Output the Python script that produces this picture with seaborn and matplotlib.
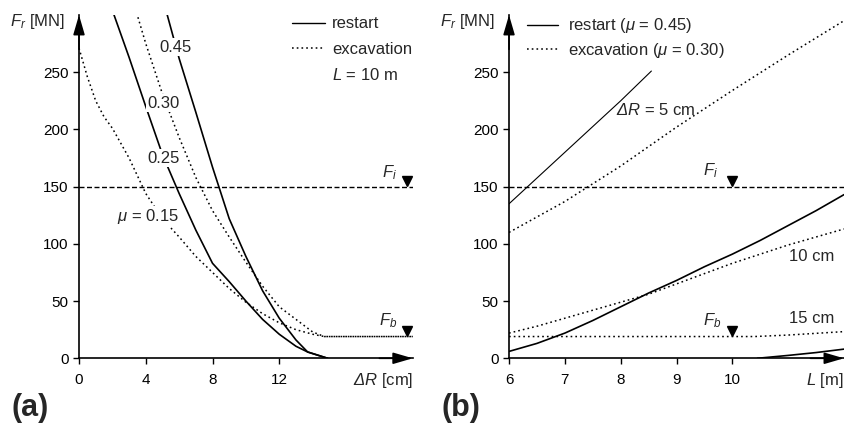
import matplotlib
matplotlib.use('Agg')
import matplotlib.pyplot as plt
import seaborn as sns
from matplotlib.lines import Line2D
from matplotlib.transforms import offset_copy

# Panel (a): thrust force F_r [MN] against overcut dR [cm], L = 10 m
dr_exc_015 = [0, 0.5, 1, 1.5, 2, 3, 4, 5, 6, 7, 8, 9, 10, 11, 12, 13, 14, 14.7, 20]
fr_exc_015 = [271, 246, 225, 211, 201, 175, 144, 122, 106, 89, 75, 61, 49, 39, 31, 25, 21, 19, 19]

dr_exc_030 = [3.45, 4, 5, 6, 7, 8, 9, 10, 11, 12, 13, 14, 14.7, 20]
fr_exc_030 = [302, 275, 231, 193, 158, 129, 106, 84, 63, 45, 34, 23, 19, 19]

dr_res_025 = [2.05, 3, 4, 5, 6, 7, 8, 9, 10, 11, 12, 13, 13.7, 14.9]
fr_res_025 = [302, 263, 220, 178, 144, 112, 83, 67, 50, 34, 21, 10.5, 5.5, 0]

dr_res_045 = [5.25, 6, 7, 8, 9, 10, 11, 12, 13, 13.7, 14.9]
fr_res_045 = [302, 262, 215, 167, 122, 89, 59, 35, 16, 5.5, 0]

# Panel (b): F_r against shield length L [m]
L_res_5 = [6, 7, 8, 8.55]
fr_res_5 = [135, 180, 225, 251]
L_exc_5 = [6, 7, 8, 9, 10, 11, 12]
fr_exc_5 = [110, 137, 168, 202, 234, 265, 295]

L_10 = [6, 6.5, 7, 7.5, 8, 8.5, 9, 9.5, 10, 10.5, 11, 11.5, 12]
fr_res_10 = [6, 13, 22, 33, 45, 57, 68, 80, 91, 103, 116, 129, 143]
fr_exc_10 = [22, 28, 35, 42, 49, 56, 65, 74, 83, 91, 99, 106, 113]

L_exc_15 = [6, 10.4, 11, 11.5, 12]
fr_exc_15 = [19, 19, 20.3, 21.8, 23.3]
L_res_15 = [10.45, 11, 11.5, 12]
fr_res_15 = [0, 2.5, 5, 8]

F_i = 150
F_b = 19

sns.set_style('ticks')
plt.rcParams['font.family'] = ['Liberation Sans', 'DejaVu Sans']
plt.rcParams['mathtext.fontset'] = 'custom'
# math "rm" is only hit by the Greek capital Delta here, which is italic in the figure
plt.rcParams['mathtext.rm'] = 'Liberation Sans:italic'
plt.rcParams['mathtext.it'] = 'Liberation Sans:italic'
plt.rcParams['mathtext.bf'] = 'Liberation Sans:bold'

SOLID = '-'
DOTTED = (0, (1.1, 2.0))
DASHED = (0, (3.6, 1.8))
FS = 12

fig = plt.figure(figsize=(8.45, 4.23), dpi=100)
ax_a = fig.add_axes([0.0935, 0.153, 0.395, 0.8116])
ax_b = fig.add_axes([0.6024, 0.153, 0.3964, 0.8116])


def curve(ax, x, y, ls, lw=1.2):
    sns.lineplot(x=x, y=y, ax=ax, color='k', lw=lw, linestyle=ls,
                 estimator=None, sort=False, zorder=2)


def style_axes(ax, xlim, xticks, xlabel):
    ax.set_xlim(*xlim)
    ax.set_ylim(0, 300)
    ax.set_xticks(xticks)
    ax.set_yticks([0, 50, 100, 150, 200, 250])
    ax.set_xlabel('')
    ax.set_ylabel('')
    for s in ['top', 'right']:
        ax.spines[s].set_visible(False)
    for s in ['left', 'bottom']:
        ax.spines[s].set_linewidth(1.2)
        ax.spines[s].set_color('k')
    ax.tick_params(direction='out', length=4.5, width=1, colors='k', labelsize=11)
    ax.tick_params(axis='x', pad=6)
    ax.tick_params(axis='y', pad=3)
    arrow = dict(arrowstyle='-|>,head_length=1.2,head_width=0.35', color='k',
                 lw=1.2, shrinkA=0, shrinkB=0)
    ax.annotate('', xy=(1, 0), xytext=(0.9, 0), xycoords='axes fraction',
                arrowprops=arrow, annotation_clip=False)
    ax.annotate('', xy=(0, 1), xytext=(0, 0.9), xycoords='axes fraction',
                arrowprops=arrow, annotation_clip=False)
    ax.text(-0.042, 0.98, r'$F_r$ [MN]', transform=ax.transAxes, ha='right',
            va='center', fontsize=FS)
    ax.text(1.0, -0.066, xlabel, transform=ax.transAxes, ha='right',
            va='center', fontsize=FS)
    ax.axhline(F_i, color='k', lw=1, linestyle=DASHED, zorder=1)


def level_marker(ax, x, level, label, tx, ty):
    tr = offset_copy(ax.transData, fig=fig, y=5.2, units='dots')
    ax.plot([x], [level], marker='v', ms=7.5, color='k', transform=tr,
            clip_on=False, zorder=4)
    ax.text(tx, ty, label, ha='center', va='center', fontsize=FS)


label_box = dict(facecolor='white', edgecolor='none', pad=1)

# ---- panel (a)
curve(ax_a, dr_exc_015, fr_exc_015, DOTTED, 1.1)
curve(ax_a, dr_exc_030, fr_exc_030, DOTTED, 1.1)
curve(ax_a, dr_res_025, fr_res_025, SOLID)
curve(ax_a, dr_res_045, fr_res_045, SOLID)
style_axes(ax_a, (0, 20), [0, 4, 8, 12], r'$\Delta R$ [cm]')

ax_a.text(5.81, 272, '0.45', ha='center', va='center', fontsize=FS, bbox=label_box, zorder=3)
ax_a.text(5.06, 223, '0.30', ha='center', va='center', fontsize=FS, bbox=label_box, zorder=3)
ax_a.text(5.06, 175, '0.25', ha='center', va='center', fontsize=FS, bbox=label_box, zorder=3)
ax_a.text(4.16, 124, r'$\mu$ = 0.15', ha='center', va='center', fontsize=FS, bbox=label_box, zorder=3)

level_marker(ax_a, 19.65, F_i, r'$F_i$', 18.63, 162)
level_marker(ax_a, 19.65, F_b, r'$F_b$', 18.5, 33)

handles_a = [Line2D([], [], color='k', lw=1.0, linestyle=SOLID),
             Line2D([], [], color='k', lw=1.1, linestyle=DOTTED),
             Line2D([], [], color='none')]
ax_a.legend(handles_a, ['restart', 'excavation', r'$L$ = 10 m'],
            loc='upper left', bbox_to_anchor=(0.638, 0.996), frameon=False,
            borderpad=0, borderaxespad=0, handlelength=2.0, handletextpad=0.42,
            labelspacing=0.62, fontsize=FS)

# ---- panel (b)
curve(ax_b, L_res_5, fr_res_5, SOLID, 0.8)
curve(ax_b, L_exc_5, fr_exc_5, DOTTED, 1.1)
curve(ax_b, L_10, fr_res_10, SOLID)
curve(ax_b, L_10, fr_exc_10, DOTTED, 1.1)
curve(ax_b, L_exc_15, fr_exc_15, DOTTED, 1.1)
curve(ax_b, L_res_15, fr_res_15, SOLID)
style_axes(ax_b, (6, 12), [6, 7, 8, 9, 10], r'$L$ [m]')

ax_b.text(8.62, 217, r'$\Delta R$ = 5 cm', ha='center', va='center', fontsize=FS, zorder=3)
ax_b.text(11.82, 89, '10 cm', ha='right', va='center', fontsize=FS)
ax_b.text(11.82, 35, '15 cm', ha='right', va='center', fontsize=FS)

level_marker(ax_b, 10, F_i, r'$F_i$', 9.61, 164)
level_marker(ax_b, 10, F_b, r'$F_b$', 9.64, 33)

handles_b = [Line2D([], [], color='k', lw=1.0, linestyle=SOLID),
             Line2D([], [], color='k', lw=1.1, linestyle=DOTTED)]
ax_b.legend(handles_b, [r'restart ($\mu$ = 0.45)', r'excavation ($\mu$ = 0.30)'],
            loc='upper left', bbox_to_anchor=(0.054, 0.996), frameon=False,
            borderpad=0, borderaxespad=0, handlelength=1.86, handletextpad=0.6,
            labelspacing=0.32, fontsize=FS)

fig.text(0.014, 0.035, '(a)', fontsize=22, fontweight='bold', ha='left', va='center')
fig.text(0.523, 0.035, '(b)', fontsize=22, fontweight='bold', ha='left', va='center')

fig.savefig('out.png', dpi=100)
